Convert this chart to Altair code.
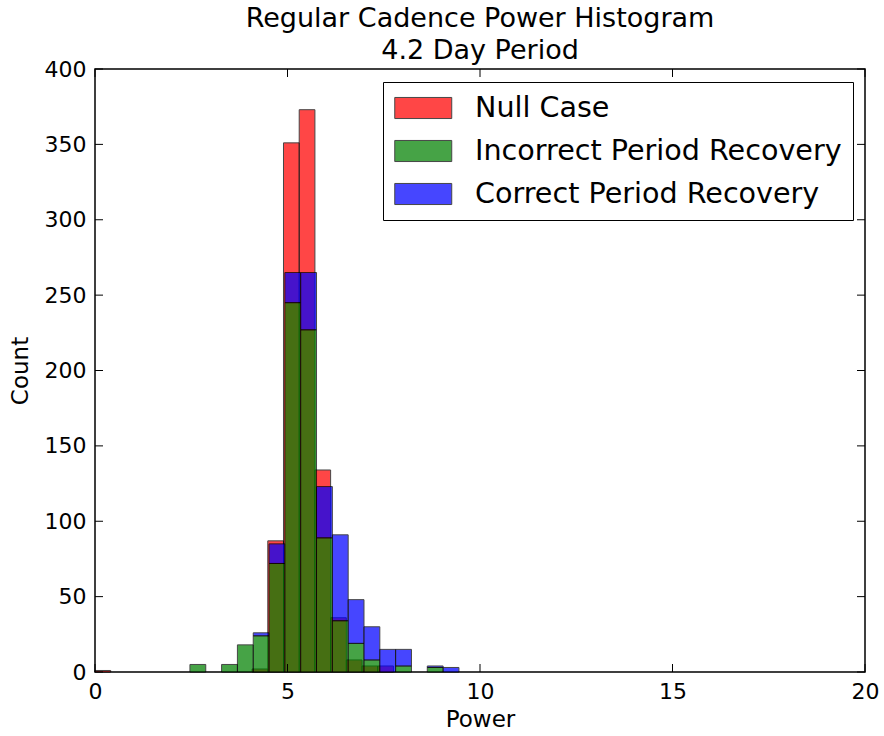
import altair as alt
import pandas as pd

# ---- data ----
series_names = ["Null Case", "Incorrect Period Recovery", "Correct Period Recovery"]
series_colors = ["#ff0000", "#008000", "#0000ff"]

red_bin_width = 0.408    # Null Case bins (start at 0)
gb_bin_width = 0.411     # stacked Incorrect/Correct bins (start at 0)

red_counts = [1, 0, 0, 0, 0, 0, 0, 0, 0, 0, 2, 87, 351, 373, 134, 36, 8, 4, 4, 0, 0, 0, 0]
green_counts = [0, 0, 0, 0, 0, 0, 5, 0, 5, 18, 24, 72, 245, 227, 89, 34, 19, 8, 0, 4, 0, 3, 0]
blue_counts = [0, 0, 0, 0, 0, 0, 0, 0, 0, 0, 2, 13, 20, 38, 34, 57, 29, 22, 15, 11, 0, 1, 3]

x_ticks = [0, 5, 10, 15, 20]
y_ticks = [0, 50, 100, 150, 200, 250, 300, 350, 400]

FONT = "DejaVu Sans"
W, H = 770, 603

# ---- tables ----
rows = []
for k, c in enumerate(red_counts):
    if c > 0:
        rows.append(dict(series=series_names[0], left=k * red_bin_width,
                         right=(k + 1) * red_bin_width, y0=0, y1=c))
red_df = pd.DataFrame(rows)

rows = []
for k, (g, b) in enumerate(zip(green_counts, blue_counts)):
    l, r = k * gb_bin_width, (k + 1) * gb_bin_width
    if g > 0:
        rows.append(dict(series=series_names[1], left=l, right=r, y0=0, y1=g))
    if b > 0:
        rows.append(dict(series=series_names[2], left=l, right=r, y0=g, y1=g + b))
gb_df = pd.DataFrame(rows)

xt_df = pd.DataFrame({"left": x_ticks})
yt_df = pd.DataFrame({"y1": y_ticks})

# ---- shared encodings ----
X = alt.X("left:Q", scale=alt.Scale(domain=[0, 20], nice=False, zero=False),
          axis=alt.Axis(values=x_ticks, format="d", title="Power", ticks=False,
                        domain=False, grid=False, labelPadding=9, titlePadding=6,
                        labelFlush=False))
Y = alt.Y("y1:Q", scale=alt.Scale(domain=[0, 400], nice=False),
          axis=alt.Axis(values=y_ticks, format="d", title="Count", ticks=False,
                        domain=False, grid=False, labelPadding=9, titlePadding=12,
                        labelFlush=False))

color = alt.Color(
    "series:N",
    scale=alt.Scale(domain=series_names, range=series_colors),
    legend=alt.Legend(
        orient="none", legendX=288, legendY=13, title=None,
        labelFont=FONT, labelFontSize=28.6, labelColor="black", labelLimit=600,
        symbolType="M-1,-0.74H3V0.74H-1Z", symbolSize=812,
        symbolStrokeColor="black", symbolStrokeWidth=1, symbolOpacity=0.72,
        strokeColor="black", fillColor="white", padding=11,
        rowPadding=13, labelOffset=51,
    ),
)

bar_style = dict(opacity=0.72, stroke="black", strokeWidth=1)

red_layer = alt.Chart(red_df).mark_bar(**bar_style).encode(
    x=X, x2="right:Q", y=Y, y2="y0:Q", color=color)
gb_layer = alt.Chart(gb_df).mark_bar(**bar_style).encode(
    x=X, x2="right:Q", y=Y, y2="y0:Q", color=color)

tick_len = 8
xt_bottom = alt.Chart(xt_df).mark_rule(color="black", strokeWidth=1).encode(
    x=X, y=alt.value(H), y2=alt.value(H - tick_len))
xt_top = alt.Chart(xt_df).mark_rule(color="black", strokeWidth=1).encode(
    x=X, y=alt.value(0), y2=alt.value(tick_len))
yt_left = alt.Chart(yt_df).mark_rule(color="black", strokeWidth=1).encode(
    y=Y, x=alt.value(0), x2=alt.value(tick_len))
yt_right = alt.Chart(yt_df).mark_rule(color="black", strokeWidth=1).encode(
    y=Y, x=alt.value(W), x2=alt.value(W - tick_len))

chart = alt.layer(red_layer, gb_layer, xt_bottom, xt_top, yt_left, yt_right).properties(
    width=W, height=H,
    background="white",
    title=alt.TitleParams(
        text=["Regular Cadence Power Histogram", "4.2 Day Period"],
        font=FONT, fontSize=27, fontWeight="normal", color="black",
        anchor="middle", offset=-7, lineHeight=32,
    ),
    autosize=alt.AutoSizeParams(type="none"),
    padding={"left": 95, "top": 69, "right": 19, "bottom": 64},
).configure_view(
    stroke="black", strokeWidth=1.5
).configure_axis(
    labelFont=FONT, labelFontSize=22, labelColor="black",
    titleFont=FONT, titleFontSize=23, titleFontWeight="normal", titleColor="black",
)

chart.save("out.html", embed_options={"renderer": "svg", "actions": False})
